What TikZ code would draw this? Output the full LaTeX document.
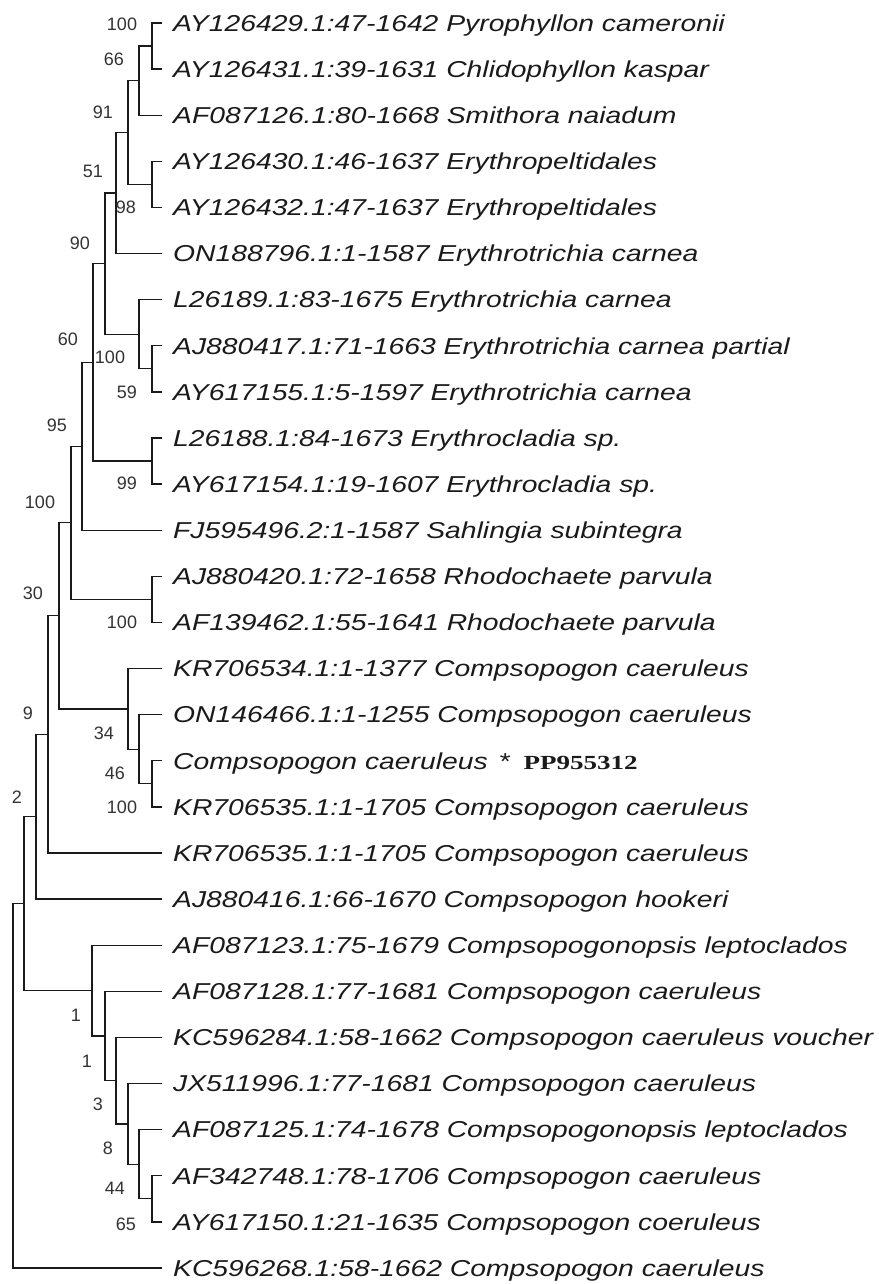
\documentclass[tikz,border=0pt]{standalone}
\usepackage{fontspec}
\newfontfamily\leaffont{Liberation Sans}[FakeStretch=1.23]
\newfontfamily\bootfont{Liberation Sans}
\newfontfamily\accfont{Liberation Serif}[FakeStretch=1.35]
\definecolor{treeink}{HTML}{1A1A1A}
\definecolor{bootink}{HTML}{333333}
\tikzset{
    leaf/.style={anchor=west, inner xsep=11pt, inner ysep=0pt, text height=16.5pt, text depth=0pt, text=treeink, font={\leaffont\fontsize{23}{27}\selectfont\itshape}},
    boot/.style={inner sep=0pt, text=bootink, font={\bootfont\fontsize{18}{20}\selectfont}},
    branch/.style={draw=treeink, line width=1.3pt}
}

\begin{document}
\begin{tikzpicture}[x=1pt, y=-46.11pt]
    \useasboundingbox [fill=white] (0,-0.4988) rectangle (878,27.3476);
    % leaves
    \node (l1) [leaf] at (162,0) {AY126429.1:47-1642 Pyrophyllon cameronii};
    \node (l2) [leaf] at (162,1) {AY126431.1:39-1631 Chlidophyllon kaspar};
    \node (l3) [leaf] at (162,2) {AF087126.1:80-1668 Smithora naiadum};
    \node (l4) [leaf] at (162,3) {AY126430.1:46-1637 Erythropeltidales};
    \node (l5) [leaf] at (162,4) {AY126432.1:47-1637 Erythropeltidales};
    \node (l6) [leaf] at (162,5) {ON188796.1:1-1587 Erythrotrichia carnea};
    \node (l7) [leaf] at (162,6) {L26189.1:83-1675 Erythrotrichia carnea};
    \node (l8) [leaf] at (162,7) {AJ880417.1:71-1663 Erythrotrichia carnea partial};
    \node (l9) [leaf] at (162,8) {AY617155.1:5-1597 Erythrotrichia carnea};
    \node (l10) [leaf] at (162,9) {L26188.1:84-1673 Erythrocladia sp.};
    \node (l11) [leaf] at (162,10) {AY617154.1:19-1607 Erythrocladia sp.};
    \node (l12) [leaf] at (162,11) {FJ595496.2:1-1587 Sahlingia subintegra};
    \node (l13) [leaf] at (162,12) {AJ880420.1:72-1658 Rhodochaete parvula};
    \node (l14) [leaf] at (162,13) {AF139462.1:55-1641 Rhodochaete parvula};
    \node (l15) [leaf] at (162,14) {KR706534.1:1-1377 Compsopogon caeruleus};
    \node (l16) [leaf] at (162,15) {ON146466.1:1-1255 Compsopogon caeruleus};
    \node (l17) [leaf] at (162,16) {Compsopogon caeruleus\hspace{11pt}*\hspace{14pt}{\accfont\fontsize{20}{22}\selectfont\upshape\bfseries PP955312}};
    \node (l18) [leaf] at (162,17) {KR706535.1:1-1705 Compsopogon caeruleus};
    \node (l19) [leaf] at (162,18) {KR706535.1:1-1705 Compsopogon caeruleus};
    \node (l20) [leaf] at (162,19) {AJ880416.1:66-1670 Compsopogon hookeri};
    \node (l21) [leaf] at (162,20) {AF087123.1:75-1679 Compsopogonopsis leptoclados};
    \node (l22) [leaf] at (162,21) {AF087128.1:77-1681 Compsopogon caeruleus};
    \node (l23) [leaf] at (162,22) {KC596284.1:58-1662 Compsopogon caeruleus voucher};
    \node (l24) [leaf] at (162,23) {JX511996.1:77-1681 Compsopogon caeruleus};
    \node (l25) [leaf] at (162,24) {AF087125.1:74-1678 Compsopogonopsis leptoclados};
    \node (l26) [leaf] at (162,25) {AF342748.1:78-1706 Compsopogon caeruleus};
    \node (l27) [leaf] at (162,26) {AY617150.1:21-1635 Compsopogon coeruleus};
    \node (l28) [leaf] at (162,27) {KC596268.1:58-1662 Compsopogon caeruleus};

    % internal nodes
    \coordinate (n1) at (152,0.5);
    \coordinate (n2) at (139,1.25);
    \coordinate (n3) at (152,3.5);
    \coordinate (n4) at (128,2.375);
    \coordinate (n5) at (116,3.6875);
    \coordinate (n6) at (152,7.5);
    \coordinate (n7) at (139,6.75);
    \coordinate (n8) at (105,5.21875);
    \coordinate (n9) at (152,9.5);
    \coordinate (n10) at (93,7.359);
    \coordinate (n11) at (82,9.18);
    \coordinate (n12) at (152,12.5);
    \coordinate (n13) at (71,10.84);
    \coordinate (n14) at (152,16.5);
    \coordinate (n15) at (139,15.75);
    \coordinate (n16) at (128,14.875);
    \coordinate (n17) at (59,12.857);
    \coordinate (n18) at (48,15.43);
    \coordinate (n19) at (36,17.21);
    \coordinate (n20) at (152,25.5);
    \coordinate (n21) at (139,24.75);
    \coordinate (n22) at (128,23.875);
    \coordinate (n23) at (116,22.94);
    \coordinate (n24) at (105,21.97);
    \coordinate (n25) at (92,20.98);
    \coordinate (n26) at (24,19.1);
    \coordinate (n27) at (13,23.05);

    % branches
    \draw [branch] (n1) |- (l1.west);
    \draw [branch] (n1) |- (l2.west);
    \draw [branch] (n2) |- (n1);
    \draw [branch] (n2) |- (l3.west);
    \draw [branch] (n3) |- (l4.west);
    \draw [branch] (n3) |- (l5.west);
    \draw [branch] (n4) |- (n2);
    \draw [branch] (n4) |- (n3);
    \draw [branch] (n5) |- (n4);
    \draw [branch] (n5) |- (l6.west);
    \draw [branch] (n6) |- (l8.west);
    \draw [branch] (n6) |- (l9.west);
    \draw [branch] (n7) |- (l7.west);
    \draw [branch] (n7) |- (n6);
    \draw [branch] (n8) |- (n5);
    \draw [branch] (n8) |- (n7);
    \draw [branch] (n9) |- (l10.west);
    \draw [branch] (n9) |- (l11.west);
    \draw [branch] (n10) |- (n8);
    \draw [branch] (n10) |- (n9);
    \draw [branch] (n11) |- (n10);
    \draw [branch] (n11) |- (l12.west);
    \draw [branch] (n12) |- (l13.west);
    \draw [branch] (n12) |- (l14.west);
    \draw [branch] (n13) |- (n11);
    \draw [branch] (n13) |- (n12);
    \draw [branch] (n14) |- (l17.west);
    \draw [branch] (n14) |- (l18.west);
    \draw [branch] (n15) |- (l16.west);
    \draw [branch] (n15) |- (n14);
    \draw [branch] (n16) |- (l15.west);
    \draw [branch] (n16) |- (n15);
    \draw [branch] (n17) |- (n13);
    \draw [branch] (n17) |- (n16);
    \draw [branch] (n18) |- (n17);
    \draw [branch] (n18) |- (l19.west);
    \draw [branch] (n19) |- (n18);
    \draw [branch] (n19) |- (l20.west);
    \draw [branch] (n20) |- (l26.west);
    \draw [branch] (n20) |- (l27.west);
    \draw [branch] (n21) |- (l25.west);
    \draw [branch] (n21) |- (n20);
    \draw [branch] (n22) |- (l24.west);
    \draw [branch] (n22) |- (n21);
    \draw [branch] (n23) |- (l23.west);
    \draw [branch] (n23) |- (n22);
    \draw [branch] (n24) |- (l22.west);
    \draw [branch] (n24) |- (n23);
    \draw [branch] (n25) |- (l21.west);
    \draw [branch] (n25) |- (n24);
    \draw [branch] (n26) |- (n19);
    \draw [branch] (n26) |- (n25);
    \draw [branch] (n27) |- (n26);
    \draw [branch] (n27) |- (l28.west);

    % bootstrap values
    \node (b1) [boot] at (122,0.02) {100};
    \node (b2) [boot] at (114,0.78) {66};
    \node (b3) [boot] at (103,1.93) {91};
    \node (b4) [boot] at (93,3.21) {51};
    \node (b5) [boot] at (126,3.99) {98};
    \node (b6) [boot] at (80,4.77) {90};
    \node (b7) [boot] at (68,6.87) {60};
    \node (b8) [boot] at (110,7.24) {100};
    \node (b9) [boot] at (127,8.0) {59};
    \node (b10) [boot] at (57,8.72) {95};
    \node (b11) [boot] at (127,9.98) {99};
    \node (b12) [boot] at (40,10.39) {100};
    \node (b13) [boot] at (33,12.36) {30};
    \node (b14) [boot] at (122,12.99) {100};
    \node (b15) [boot] at (28,14.96) {9};
    \node (b16) [boot] at (104,15.4) {34};
    \node (b17) [boot] at (115,16.27) {46};
    \node (b18) [boot] at (17,16.79) {2};
    \node (b19) [boot] at (122,17.0) {100};
    \node (b20) [boot] at (76,21.51) {1};
    \node (b21) [boot] at (87,22.51) {1};
    \node (b22) [boot] at (98,23.44) {3};
    \node (b23) [boot] at (108,24.4) {8};
    \node (b24) [boot] at (115,25.27) {44};
    \node (b25) [boot] at (126,26.05) {65};
\end{tikzpicture}
\end{document}
